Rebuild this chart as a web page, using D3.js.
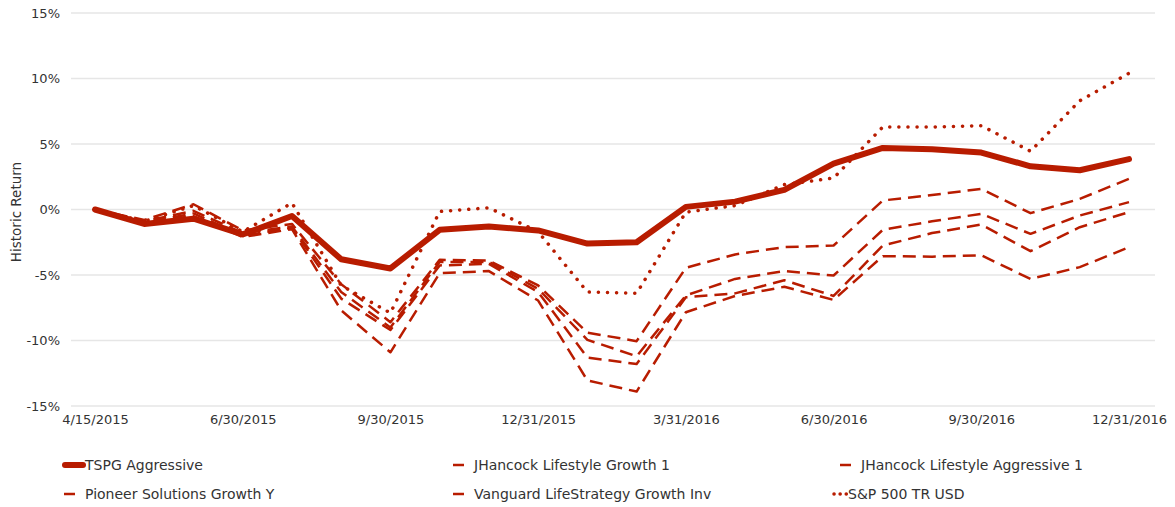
<!DOCTYPE html>
<html lang="en">
	<head>
		<meta charset="utf-8">
		<title>Historic Return</title>
		<script src="https://d3js.org/d3.v7.min.js"></script>
		<style type="text/css">
			body { margin: 0; background: #fff; }
			text { font-family: "DejaVu Sans", Verdana, sans-serif; fill: #333; }
		</style>
	</head>
	<body>
		<script type="text/javascript">
			// chart data
			var dates = ["4/15/2015","4/30/2015","5/31/2015","6/30/2015","7/31/2015","8/31/2015","9/30/2015","10/31/2015","11/30/2015","12/31/2015","1/31/2016","2/29/2016","3/31/2016","4/30/2016","5/31/2016","6/30/2016","7/31/2016","8/31/2016","9/30/2016","10/31/2016","11/30/2016","12/31/2016"];
			var tickLabels = ["4/15/2015","6/30/2015","9/30/2015","12/31/2015","3/31/2016","6/30/2016","9/30/2016","12/31/2016"];
			var yTicks = [-15, -10, -5, 0, 5, 10, 15];
			var seriesNames = ["TSPG Aggressive","JHancock Lifestyle Growth 1","JHancock Lifestyle Aggressive 1","Pioneer Solutions Growth Y","Vanguard LifeStrategy Growth Inv","S&P 500 TR USD"];

			var tspg      = [0, -1.1, -0.7, -1.9, -0.5, -3.8, -4.5, -1.55, -1.3, -1.6, -2.6, -2.5, 0.2, 0.6, 1.5, 3.5, 4.7, 4.6, 4.35, 3.3, 3.0, 3.85];
			var jhGrowth  = [0, -0.8, 0.4, -1.6, -1.1, -5.7, -8.6, -3.84, -3.9, -5.8, -9.4, -10.05, -4.45, -3.43, -2.87, -2.75, 0.69, 1.1, 1.58, -0.28, 0.81, 2.34];
			var jhAggr    = [0, -0.9, -0.1, -1.8, -1.3, -6.3, -9.0, -4.0, -4.0, -6.05, -9.95, -11.2, -6.56, -5.3, -4.7, -5.04, -1.55, -0.9, -0.33, -1.86, -0.46, 0.56];
			var pioneer   = [0, -1.0, -0.3, -2.0, -1.4, -6.8, -9.2, -4.27, -4.15, -6.3, -11.3, -11.8, -6.7, -6.4, -5.4, -6.6, -2.75, -1.8, -1.15, -3.18, -1.35, -0.2];
			var vanguard  = [0, -1.0, -0.5, -2.1, -1.5, -7.7, -10.9, -4.86, -4.7, -6.95, -13.05, -13.9, -7.84, -6.6, -5.9, -6.9, -3.56, -3.6, -3.5, -5.3, -4.4, -2.88];
			var sp500     = [0, -0.9, 0.3, -1.7, 0.5, -5.8, -7.9, -0.15, 0.13, -1.7, -6.3, -6.4, -0.2, 0.3, 1.9, 2.4, 6.3, 6.3, 6.4, 4.45, 8.3, 10.4];

			var allValues = [tspg, jhGrowth, jhAggr, pioneer, vanguard, sp500];

			//Width and height
			var w = 1175;
			var h = 507;
			var red = "#b81c00";

			// line styles per series
			var styles = [
				{ width: 6, dash: null, cap: "round" },
				{ width: 2.5, dash: "13,7", cap: "butt" },
				{ width: 2.5, dash: "13,7", cap: "butt" },
				{ width: 2.5, dash: "13,7", cap: "butt" },
				{ width: 2.5, dash: "13,7", cap: "butt" },
				{ width: 3.5, dash: "0.1,9", cap: "round" }
			];

			var mySVG = d3.select("body").append("svg").attr("width", w).attr("height", h);

			var xScale = d3.scalePoint()
								 .domain(dates)
								 .range([95, 1129]);

			var yScale = d3.scaleLinear()
								 .domain([-15, 15])
								 .range([406, 13]);

			// grid lines
			mySVG.append("g").selectAll("line")
				.data(yTicks)
				.enter()
				.append("line")
					.attr("x1", 71)
					.attr("x2", 1155)
					.attr("y1", d => yScale(d))
					.attr("y2", d => yScale(d))
					.attr("stroke", "#e6e6e6")
					.attr("stroke-width", 1.5);

			// y axis
			var yAxis = d3.axisLeft(yScale)
				.tickValues(yTicks)
				.tickFormat(d => d + "%")
				.tickSize(0)
				.tickPadding(0);
			var gy = mySVG.append("g").attr("transform", "translate(60,0)").call(yAxis);
			gy.select(".domain").remove();
			gy.selectAll("text").style("font-size", "13px").attr("fill", "#333").attr("font-family", null);

			// x axis
			var xAxis = d3.axisBottom(xScale)
				.tickValues(tickLabels)
				.tickSize(0)
				.tickPadding(0);
			var gx = mySVG.append("g").attr("transform", "translate(0,415)").call(xAxis);
			gx.select(".domain").remove();
			gx.selectAll("text").style("font-size", "13px").attr("fill", "#333").attr("font-family", null);

			// axis title
			mySVG.append("text")
				.attr("transform", "translate(21,212) rotate(-90)")
				.attr("text-anchor", "middle")
				.style("font-size", "13.5px")
				.text("Historic Return");

			var line = d3.line()
				.x((d, i) => xScale(dates[i]))
				.y(d => yScale(d));

			mySVG.append("g").selectAll("path")
				.data(allValues)
				.enter()
				.append("path")
					.attr("d", d => line(d))
					.attr("fill", "none")
					.attr("stroke", red)
					.attr("stroke-width", (d, i) => styles[i].width)
					.attr("stroke-dasharray", (d, i) => styles[i].dash)
					.attr("stroke-linecap", (d, i) => styles[i].cap)
					.attr("stroke-linejoin", "round");

			// legend
			var legendPos = [[62, 465], [451, 465], [838, 465], [62, 494], [451, 494], [825, 494]];
			var legend = mySVG.append("g").selectAll("g")
				.data(seriesNames)
				.enter()
				.append("g")
					.attr("transform", (d, i) => "translate(" + legendPos[i][0] + "," + legendPos[i][1] + ")");

			legend.append("line")
				.attr("x1", (d, i) => i == 0 ? 3 : (i == 5 ? 9 : 2))
				.attr("x2", (d, i) => i == 0 ? 21 : (i == 5 ? 22 : 13))
				.attr("y1", 0)
				.attr("y2", 0)
				.attr("stroke", red)
				.attr("stroke-width", (d, i) => i == 0 ? 6 : (i == 5 ? 3.5 : 2.5))
				.attr("stroke-dasharray", (d, i) => i == 5 ? "0.1,6" : null)
				.attr("stroke-linecap", (d, i) => i == 1 || i == 2 || i == 3 || i == 4 ? "butt" : "round");

			legend.append("text")
				.attr("x", 23)
				.attr("dy", "0.35em")
				.style("font-size", "14px")
				.text(d => d);
		</script>
	</body>
</html>
